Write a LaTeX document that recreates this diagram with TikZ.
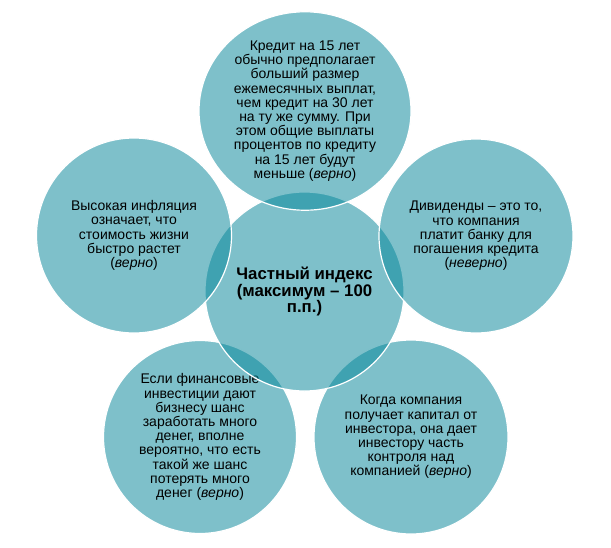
\documentclass[tikz,border=0pt]{standalone}
\usepackage{fontspec}
\setmainfont{Liberation Sans}
\usetikzlibrary{shapes.geometric}
\definecolor{teal1}{RGB}{7,135,154}
\tikzset{
  venn/.style={circle, fill=teal1, fill opacity=0.52, draw=white, draw opacity=1,
    line width=1.2pt, inner sep=0pt, outer sep=0pt, text opacity=1, text=black,
    align=center, font=\fontsize{14}{14.2}\selectfont},
  ovalvenn/.style={venn, ellipse},
  hub/.style={venn, font=\fontsize{16.8}{16.8}\selectfont\bfseries}
}
\begin{document}
\begin{tikzpicture}[x=1pt,y=-1pt]
\useasboundingbox (0,0) rectangle (611,547);
\node[venn, minimum size=193pt] (bl) at (200,437) {Если финансовые\\инвестиции дают\\бизнесу шанс\\заработать много\\денег, вполне\\вероятно, что есть\\такой же шанс\\потерять много\\денег (\textit{верно})};
\node[venn, minimum size=194pt] (br) at (411,437) {Когда компания\\получает капитал от\\инвестора, она дает\\инвестору часть\\контроля над\\компанией (\textit{верно})};
\node[hub, minimum size=199pt] (c) at (304.5,291.5) {Частный индекс\\(максимум – 100\\п.п.)};
\node[ovalvenn, minimum width=212pt, minimum height=194pt] (t) at (305,111) {Кредит на 15 лет\\обычно предполагает\\больший размер\\ежемесячных выплат,\\чем кредит на 30 лет\\на ту же сумму. При\\этом общие выплаты\\процентов по кредиту\\на 15 лет будут\\меньше (\textit{верно})};
\node[venn, minimum size=195pt] (l) at (134,235.5) {Высокая инфляция\\означает, что\\стоимость жизни\\быстро растет\\(\textit{верно})};
\node[venn, minimum size=194pt] (r) at (476,236) {Дивиденды – это то,\\что компания\\платит банку для\\погашения кредита\\(\textit{неверно})};
\end{tikzpicture}
\end{document}
